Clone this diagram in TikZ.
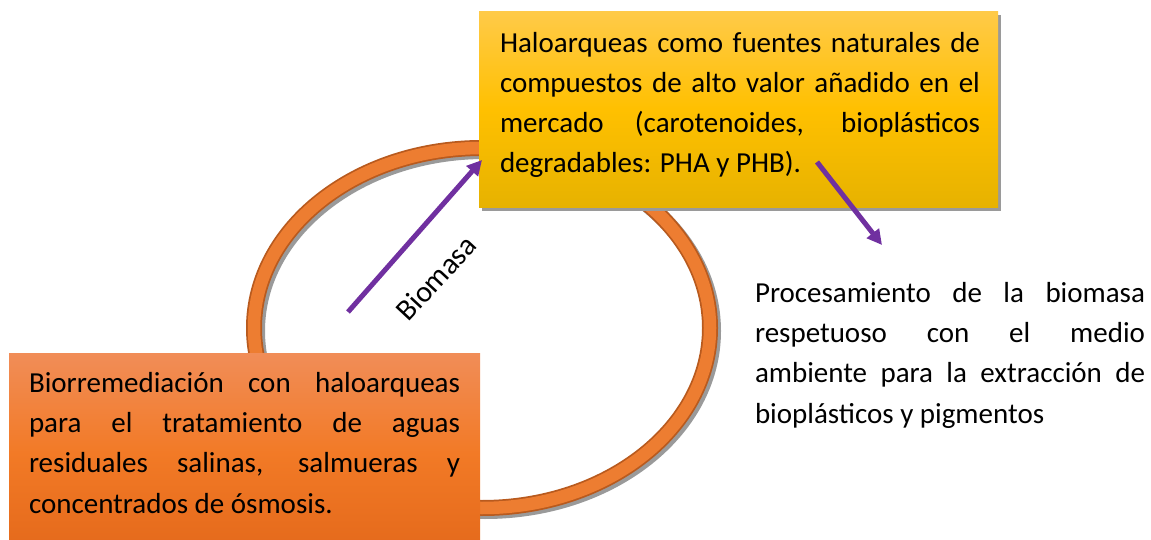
\documentclass[tikz,border=0pt]{standalone}
\usepackage{fontspec}
\setmainfont{Carlito}
\usetikzlibrary{arrows.meta,shadows}
\hyphenpenalty=10000
\exhyphenpenalty=10000
\tolerance=10000
\hbadness=10000
\definecolor{ringor}{HTML}{ED7D31}
\definecolor{ringdark}{HTML}{B85A1E}
\definecolor{shadowgray}{HTML}{9A9A9A}
\definecolor{ytop}{HTML}{FFCA48}
\definecolor{ymid}{HTML}{FFC000}
\definecolor{ybot}{HTML}{E6B200}
\definecolor{otop}{HTML}{F18D58}
\definecolor{omid}{HTML}{F27A26}
\definecolor{obot}{HTML}{E4691B}
\definecolor{arrowpurple}{HTML}{7030A0}
\tikzset{
  boxbase/.style={rectangle, inner sep=0pt, outer sep=0pt, anchor=north west},
  yellowbox/.style={boxbase, top color=ytop, bottom color=ybot, middle color=ymid,
     drop shadow={shadow xshift=3pt, shadow yshift=-3pt, opacity=1, fill=shadowgray}},
  orangebox/.style={boxbase, top color=otop, bottom color=obot, middle color=omid},
  bodytext/.style={inner sep=0pt, outer sep=0pt, anchor=north west, align=justify},
  flowarrow/.style={line width=5pt, arrowpurple, -{Triangle[length=15pt,width=15pt]}},
}
\begin{document}
\begin{tikzpicture}[x=1pt,y=-1pt]
\useasboundingbox (0,0) rectangle (1151,540);
% ring
\draw[line width=16pt, shadowgray] (485,331) ellipse [x radius=228pt, y radius=180pt];
\draw[line width=16pt, ringdark] (482,328) ellipse [x radius=228pt, y radius=180pt];
\draw[line width=12.5pt, ringor] (482,328) ellipse [x radius=228pt, y radius=180pt];
% boxes
\node[yellowbox, minimum width=519pt, minimum height=196pt] (topbox) at (479,12) {};
\node[orangebox, minimum width=471pt, minimum height=200pt] (leftbox) at (9,353) {};
% texts
\node[bodytext, text width=480pt, font=\fontsize{29}{40}\selectfont] (toptext) at (500,25)
  {\strut Haloarqueas como fuentes naturales de\linebreak compuestos de alto valor añadido en el\linebreak mercado (carotenoides, bioplásticos\linebreak degradables: PHA y PHB).};
\node[bodytext, text width=431pt, font=\fontsize{29}{40.3}\selectfont] (lefttext) at (29,364)
  {\strut Biorremediación con haloarqueas\linebreak para el tratamiento de aguas\linebreak residuales salinas, salmueras y\linebreak concentrados de ósmosis.};
\node[bodytext, text width=390pt, font=\fontsize{29}{40.3}\selectfont] (righttext) at (755,274)
  {\strut Procesamiento de la biomasa\linebreak respetuoso con el medio\linebreak ambiente para la extracción de\linebreak bioplásticos y pigmentos};
% arrows
\coordinate (bstart) at (348,312);
\coordinate (bend) at (482,160);
\draw[flowarrow] (bstart) -- (bend);
\coordinate (pstart) at (817,162);
\coordinate (pend) at (882,245);
\draw[flowarrow] (pstart) -- (pend);
\node[rotate=47, font=\fontsize{30}{36}\selectfont, inner sep=0pt] (biolabel) at (436,278) {Biomasa};
\end{tikzpicture}
\end{document}
